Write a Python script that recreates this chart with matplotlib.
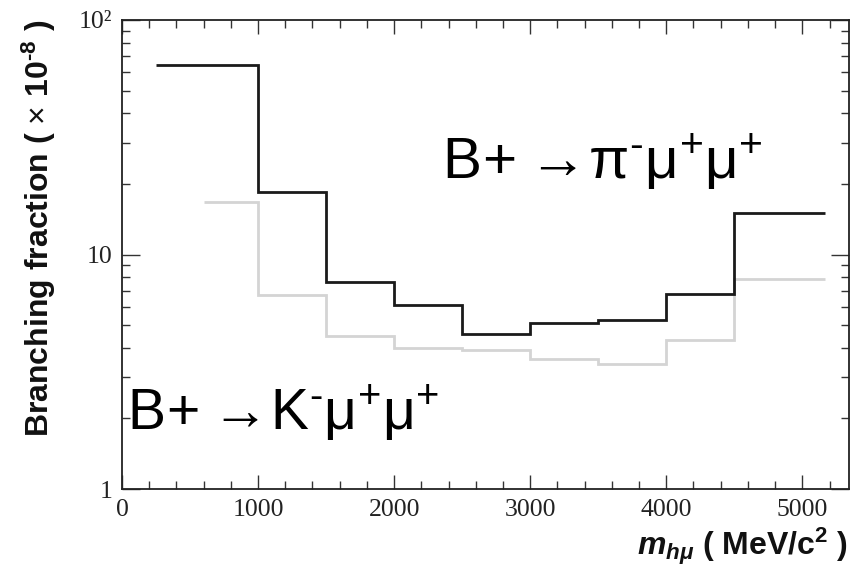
import matplotlib
matplotlib.use("Agg")
import matplotlib.pyplot as plt
from matplotlib.ticker import FixedLocator, FixedFormatter, MultipleLocator, LogLocator, NullFormatter
import numpy as np

# Bin edges (MeV/c^2) and upper limits (x 10^-8)
pi_edges = [250, 1000, 1500, 2000, 2500, 3000, 3500, 4000, 4500, 5170]
pi_values = [64.3, 18.4, 7.6, 6.1, 4.6, 5.1, 5.25, 6.8, 15.1]
k_edges = [600, 1000, 1500, 2000, 2500, 3000, 3500, 4000, 4500, 5170]
k_values = [16.7, 6.7, 4.5, 4.0, 3.9, 3.6, 3.4, 4.3, 7.9]

ytick_vals = [1, 10, 100]
ytick_labels = ["1", "10", "10\u00b2"]
xtick_vals = [0, 1000, 2000, 3000, 4000, 5000]
xtick_labels = ["0", "1000", "2000", "3000", "4000", "5000"]

plt.rcParams['mathtext.fontset'] = 'custom'
plt.rcParams['mathtext.rm'] = 'Liberation Sans:bold'
plt.rcParams['mathtext.bf'] = 'Liberation Sans:bold'
plt.rcParams['mathtext.it'] = 'Liberation Sans:italic:bold'
plt.rcParams['mathtext.sf'] = 'Liberation Sans'

fig = plt.figure(figsize=(8.53, 5.66), dpi=100)
ax = fig.add_axes([122/853, 1-489/566, (849-122)/853, (489-20)/566])

ax.stairs(k_values, k_edges, color="#d4d4d4", linewidth=2.0, baseline=None)
ax.stairs(pi_values, pi_edges, color="#1a1a1a", linewidth=2.0, baseline=None)

ax.set_yscale("log")
ax.set_ylim(1, 100)
ax.set_xlim(0, 5343)

ax.yaxis.set_major_locator(FixedLocator(ytick_vals))
ax.yaxis.set_major_formatter(FixedFormatter(ytick_labels))
ax.yaxis.set_minor_locator(LogLocator(base=10, subs=np.arange(2, 10)))
ax.yaxis.set_minor_formatter(NullFormatter())
ax.xaxis.set_major_locator(FixedLocator(xtick_vals))
ax.xaxis.set_major_formatter(FixedFormatter(xtick_labels))
ax.xaxis.set_minor_locator(MultipleLocator(200))

ax.tick_params(which="both", direction="in", top=True, right=True, colors="#333333")
ax.tick_params(which="major", width=1.0, labelsize=18.5, labelcolor="#222222", pad=7)
ax.tick_params(axis="x", which="major", length=10)
ax.tick_params(axis="y", which="major", length=13)
ax.tick_params(which="minor", length=5.5, width=1.0)
for lbl in ax.get_xticklabels() + ax.get_yticklabels():
    lbl.set_family("Liberation Serif")
for sp in ax.spines.values():
    sp.set_linewidth(1.3)
    sp.set_color("#222222")

fig.text(39/853, 1-228/566, "Branching fraction ( $\\mathsf{\\times}$ 10$^{\u2010 8}$ )",
         rotation=90, fontsize=23, fontweight="bold", family="Liberation Sans",
         ha="center", va="center", color="#111111")
fig.text(848/853, 1-555/566, r"$m_{h\mu}$ ( MeV/c$^{2}$ )",
         fontsize=23, fontweight="bold", family="Liberation Sans",
         ha="right", va="baseline", color="#111111")

ax.text(2355, 21.2, "$\\mathsf{B\\!+\\!\\rightarrow\\!\\pi^{\u2010}\\mu^{+}\\mu^{+}}$", fontsize=42, color="black")
ax.text(40, 1.80, "$\\mathsf{B\\!+\\!\\rightarrow\\!K^{\u2010}\\mu^{+}\\mu^{+}}$", fontsize=41, color="black")

fig.savefig("out.png", dpi=100)
